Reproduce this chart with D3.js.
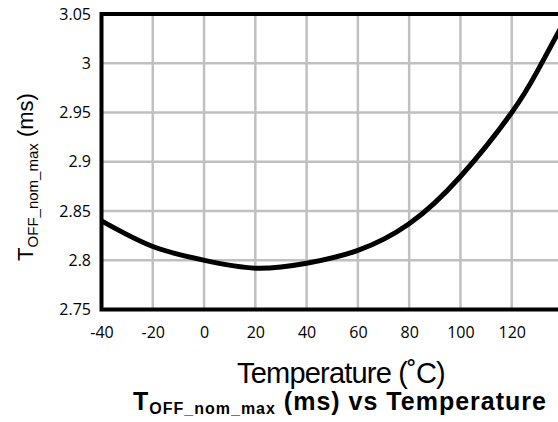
<!DOCTYPE html>
<meta charset="utf-8">
<style>
body { margin: 0; background: #fff; }
.grid line { stroke: #c0c0c0; stroke-width: 2.5px; }
.tick text { font-family: "Open Sans", "Liberation Sans", sans-serif; font-size: 16px; fill: #000; }
.line { fill: none; stroke: #000; stroke-width: 5px; }
</style>
<body>
<script src="https://d3js.org/d3.v7.min.js"></script>
<script>

// data
var temps = [-40, -20, 0, 20, 40, 60, 80, 100, 120, 130, 140];
var toff  = [2.840, 2.814, 2.800, 2.792, 2.797, 2.810, 2.837, 2.885, 2.950, 2.992, 3.040];
var xTicks = [-40, -20, 0, 20, 40, 60, 80, 100, 120];
var yTicks = [2.75, 2.8, 2.85, 2.9, 2.95, 3, 3.05];

var W = 558, H = 422;
var plotLeft = 101.5, plotTop = 14, plotBottom = 309.5;

// 140 sits just past the right edge of the window, as in the reference
var x = d3.scaleLinear().domain([-40, 140]).range([plotLeft, 563]);
var y = d3.scaleLinear().domain([2.75, 3.05]).range([plotBottom, plotTop]);

var svg = d3.select("body").append("svg")
    .attr("width", W)
    .attr("height", H);

// gridlines
svg.append("g")
    .attr("class", "grid")
    .selectAll("line")
    .data(xTicks)
  .enter().append("line")
    .attr("x1", d => x(d)).attr("x2", d => x(d))
    .attr("y1", plotTop).attr("y2", plotBottom);

svg.append("g")
    .attr("class", "grid")
    .selectAll("line")
    .data(yTicks)
  .enter().append("line")
    .attr("x1", plotLeft).attr("x2", x(140))
    .attr("y1", d => y(d)).attr("y2", d => y(d));

// the curve
var valueline = d3.line()
    .x(function(d, i) { return x(temps[i]); })
    .y(function(d) { return y(d); })
    .curve(d3.curveNatural);

svg.append("path")
    .datum(toff)
    .attr("class", "line")
    .attr("d", valueline);

// plot frame
svg.append("rect")
    .attr("x", plotLeft).attr("y", plotTop)
    .attr("width", x(140) - plotLeft).attr("height", plotBottom - plotTop)
    .attr("fill", "none")
    .attr("stroke", "#000")
    .attr("stroke-width", 4);

// axes (labels only)
var xAxis = svg.append("g")
    .attr("transform", "translate(0," + plotBottom + ")")
    .call(d3.axisBottom(x).tickValues(xTicks).tickSize(0).tickPadding(17).tickFormat(d => String(d)));
xAxis.select(".domain").remove();

var yAxis = svg.append("g")
    .attr("transform", "translate(" + plotLeft + ",0)")
    .call(d3.axisLeft(y).tickValues(yTicks).tickSize(0).tickPadding(10.5).tickFormat(d => String(d)));
yAxis.select(".domain").remove();

// x title
svg.append("text")
    .attr("x", 341)
    .attr("y", 383)
    .attr("text-anchor", "middle")
    .style("font-family", "Liberation Sans, Arial, sans-serif")
    .style("font-size", "29px")
    .style("letter-spacing", "-0.8px")
    .text("Temperature (˚C)");

// y title
var yt = svg.append("text")
    .attr("transform", "translate(33,177) rotate(-90)")
    .attr("text-anchor", "middle")
    .style("font-family", "Liberation Sans, Arial, sans-serif")
    .style("font-size", "22px");
yt.append("tspan").text("T");
yt.append("tspan").attr("dy", 5).style("font-size", "15px").text("OFF_nom_max");
yt.append("tspan").attr("dy", -5).text(" (ms)");

// chart title
var tt = svg.append("text")
    .attr("x", 340)
    .attr("y", 410)
    .attr("text-anchor", "middle")
    .style("font-family", "Liberation Sans, Arial, sans-serif")
    .style("font-weight", "bold")
    .style("font-size", "25px")
    .style("letter-spacing", "1px");
tt.append("tspan").text("T");
tt.append("tspan").attr("dy", 4).style("font-size", "16px").text("OFF_nom_max");
tt.append("tspan").attr("dy", -4).text(" (ms) vs Temperature");

</script>
</body>
